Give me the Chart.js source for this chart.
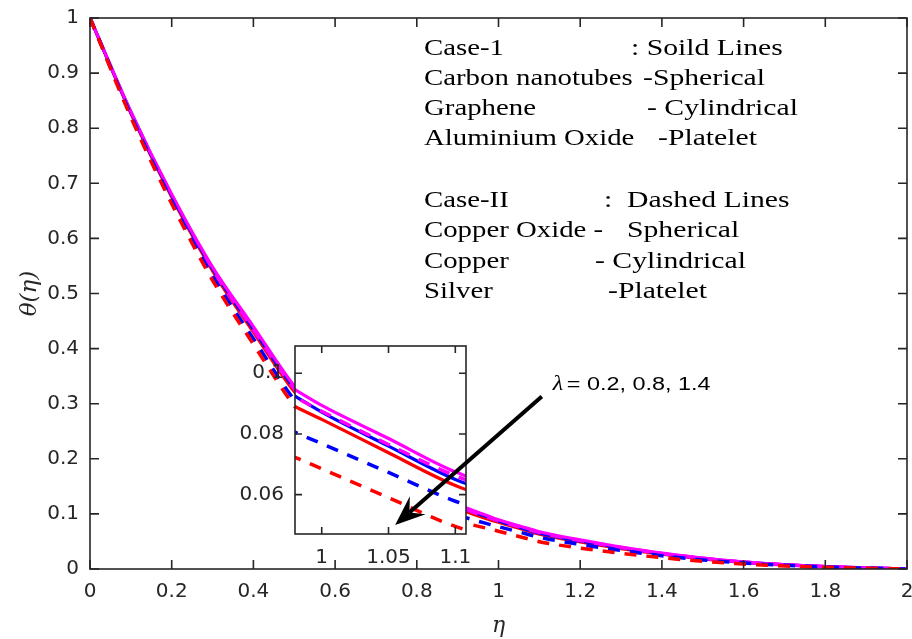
<!DOCTYPE html>
<html>
<head>
<meta charset="utf-8">
<script src="https://cdn.jsdelivr.net/npm/chart.js@4.4.1/dist/chart.umd.min.js"></script>
<style>
  body { margin: 0; background: #fff; }
  #wrap { position: relative; width: 912px; height: 639px; }
  #mainChart { position: absolute; left: 0; top: 0; }
  #insetChart { position: absolute; left: 228px; top: 330px; }
</style>
</head>
<body>
<div id="wrap">
  <canvas id="mainChart" width="912" height="639"></canvas>
  <canvas id="insetChart" width="332" height="246"></canvas>
</div>
<script>
// eta grid (denser near the zoomed window)
const eta = [0, 0.1, 0.2, 0.3, 0.4, 0.5, 0.6, 0.7, 0.8, 0.9, 0.98, 1.0, 1.05, 1.1, 1.2, 1.3, 1.4, 1.5, 1.6, 1.7, 1.8, 1.9, 2.0];

// Case-I, solid lines (lambda = 0.2 / 0.8 / 1.4)
const solidMagenta = [1, 0.830, 0.680, 0.548, 0.440, 0.332, 0.252, 0.193, 0.150, 0.117, 0.0946, 0.0894, 0.0785, 0.0675, 0.0530, 0.0400, 0.0290, 0.0200, 0.0130, 0.0080, 0.0045, 0.0020, 0];
const solidBlue    = [1, 0.829, 0.678, 0.545, 0.435, 0.328, 0.248, 0.189, 0.146, 0.114, 0.0925, 0.0872, 0.0760, 0.0650, 0.0508, 0.0385, 0.0278, 0.0193, 0.0124, 0.0077, 0.0043, 0.0019, 0];
const solidRed     = [1, 0.827, 0.675, 0.541, 0.430, 0.322, 0.241, 0.183, 0.141, 0.110, 0.0891, 0.0848, 0.0738, 0.0630, 0.0490, 0.0370, 0.0268, 0.0185, 0.0120, 0.0074, 0.0041, 0.0018, 0];

// Case-II, dashed lines
const dashMagenta  = [1, 0.828, 0.677, 0.544, 0.434, 0.327, 0.247, 0.188, 0.146, 0.114, 0.0922, 0.0875, 0.0765, 0.0662, 0.0515, 0.0390, 0.0280, 0.0195, 0.0125, 0.0078, 0.0043, 0.0019, 0];
const dashBlue     = [1, 0.824, 0.669, 0.532, 0.418, 0.307, 0.224, 0.166, 0.127, 0.098, 0.0806, 0.0768, 0.0673, 0.0578, 0.0445, 0.0335, 0.0240, 0.0165, 0.0107, 0.0066, 0.0037, 0.0016, 0];
const dashRed      = [1, 0.820, 0.663, 0.524, 0.408, 0.296, 0.210, 0.152, 0.113, 0.087, 0.0723, 0.0685, 0.0590, 0.0495, 0.0380, 0.0285, 0.0205, 0.0140, 0.0090, 0.0056, 0.0031, 0.0014, 0];

// ticks
const xTicks = [0, 0.2, 0.4, 0.6, 0.8, 1, 1.2, 1.4, 1.6, 1.8, 2];
const yTicks = [0, 0.1, 0.2, 0.3, 0.4, 0.5, 0.6, 0.7, 0.8, 0.9, 1];
const insetXTicks = [1, 1.05, 1.1];
const insetYTicks = [0.06, 0.08, 0.1];

// annotation text
const noteLines = [
  ['Case-1', ': Soild Lines'],
  ['Carbon nanotubes', '-Spherical'],
  ['Graphene', '- Cylindrical'],
  ['Aluminium Oxide', '-Platelet'],
  ['Case-II', ':  Dashed Lines'],
  ['Copper Oxide -', 'Spherical'],
  ['Copper', '- Cylindrical'],
  ['Silver', '-Platelet']
];
const lambdaText = '= 0.2, 0.8, 1.4';
const arrowTail = [1.106, 0.313];
const arrowTip = [0.747, 0.080];
const lambdaAt = [1.133, 0.325];

const AX = '#262626';
const pts = arr => eta.map((x, i) => ({ x: x, y: arr[i] }));

function series(label, arr, color, dashed) {
  return {
    label: label,
    data: pts(arr),
    borderColor: color,
    borderWidth: dashed ? 3.5 : 3.2,
    borderDash: dashed ? [12, 10] : [],
    pointRadius: 0,
    fill: false,
    cubicInterpolationMode: 'monotone'
  };
}

function allSeries() {
  // first one ends up on top
  return [
    series('Case-II λ=1.4', dashRed, '#ff0000', true),
    series('Case-II λ=0.8', dashBlue, '#0000ff', true),
    series('Case-II λ=0.2', dashMagenta, '#ff00ff', true),
    series('Case-I λ=0.2', solidMagenta, '#ff00ff', false),
    series('Case-I λ=0.8', solidBlue, '#0000ff', false),
    series('Case-I λ=1.4', solidRed, '#ff0000', false)
  ];
}

// box + inward ticks on all four sides
function framePlugin(tickLen) {
  return {
    id: 'frame',
    afterDatasetsDraw(chart) {
      const { ctx, chartArea: a, scales: { x, y } } = chart;
      ctx.save();
      ctx.strokeStyle = AX;
      ctx.lineWidth = 1.6;
      ctx.strokeRect(a.left, a.top, a.right - a.left, a.bottom - a.top);
      ctx.beginPath();
      x.ticks.forEach(t => {
        const px = x.getPixelForValue(t.value);
        ctx.moveTo(px, a.bottom); ctx.lineTo(px, a.bottom - tickLen);
        ctx.moveTo(px, a.top); ctx.lineTo(px, a.top + tickLen);
      });
      y.ticks.forEach(t => {
        const py = y.getPixelForValue(t.value);
        ctx.moveTo(a.left, py); ctx.lineTo(a.left + tickLen, py);
        ctx.moveTo(a.right, py); ctx.lineTo(a.right - tickLen, py);
      });
      ctx.stroke();
      ctx.restore();
    }
  };
}

// figure text is wider than the fonts, so stretch it a bit
function wideText(ctx, text, x, y, font, sx) {
  ctx.save();
  ctx.translate(x, y);
  ctx.scale(sx, 1);
  ctx.font = font;
  ctx.fillText(text, 0, 0);
  ctx.restore();
}

const notesPlugin = {
  id: 'notes',
  afterDraw(chart) {
    const { ctx, scales: { x, y } } = chart;
    ctx.save();
    ctx.fillStyle = '#000';
    ctx.textBaseline = 'alphabetic';
    const serif = '22.5px "Liberation Serif", "Times New Roman", serif';
    const rightCol = [631, 643, 647, 658, 604, 627, 595, 608];
    const baseY = [55, 85, 115, 145, 207, 237, 268, 298];
    noteLines.forEach((ln, i) => {
      wideText(ctx, ln[0], 424, baseY[i], serif, 1.28);
      wideText(ctx, ln[1], rightCol[i], baseY[i], serif, 1.32);
    });
    const lx = x.getPixelForValue(lambdaAt[0]);
    const ly = y.getPixelForValue(lambdaAt[1]);
    wideText(ctx, 'λ', lx, ly, 'italic 20px "Liberation Serif", serif', 1.2);
    wideText(ctx, lambdaText, lx + 14, ly, '18px "Liberation Sans", Arial, sans-serif', 1.3);
    ctx.restore();
  }
};

function scaleCommon(ticksArr, fitSize, isX, pad) {
  return {
    type: 'linear',
    grid: { display: false, drawTicks: false },
    border: { display: false },
    afterBuildTicks: s => { s.ticks = ticksArr.map(v => ({ value: v })); },
    ticks: {
      color: AX,
      padding: pad,
      autoSkip: false,
      maxRotation: 0,
      font: { family: 'DejaVu Sans', size: 20 },
      callback: v => String(v)
    },
    afterFit: s => {
      if (isX) { s.height = fitSize; } else { s.width = fitSize; }
      s.paddingLeft = 0; s.paddingRight = 0; s.paddingTop = 0; s.paddingBottom = 0;
    }
  };
}

const mainX = scaleCommon(xTicks, 70, true, 11);
mainX.min = 0; mainX.max = 2;
mainX.title = { display: true, text: 'η', color: AX, padding: { top: 0, bottom: 0 },
  font: { family: 'DejaVu Serif', style: 'italic', size: 22 } };
const mainY = scaleCommon(yTicks, 90, false, 11);
mainY.min = 0; mainY.max = 1;
mainY.title = { display: true, text: 'θ(η)', color: AX, padding: { top: 16, bottom: 0 },
  font: { family: 'DejaVu Serif', style: 'italic', size: 23 } };

const mainChart = new Chart(document.getElementById('mainChart').getContext('2d'), {
  type: 'line',
  data: { datasets: allSeries() },
  options: {
    responsive: false,
    animation: false,
    devicePixelRatio: 1,
    layout: { autoPadding: false, padding: { top: 18, right: 5, left: 0, bottom: 0 } },
    plugins: { legend: { display: false }, tooltip: { enabled: false } },
    scales: { x: mainX, y: mainY }
  },
  plugins: [framePlugin(9), notesPlugin]
});

// zoomed inset
const insetCanvas = document.getElementById('insetChart');
const insetX = scaleCommon(insetXTicks, 42, true, 12);
insetX.min = 0.98; insetX.max = 1.108;
const insetY = scaleCommon(insetYTicks, 67, false, 11);
insetY.min = 0.047; insetY.max = 0.109;

const insetBg = {
  id: 'insetBg',
  beforeDatasetsDraw(chart) {
    const { ctx, chartArea: a } = chart;
    ctx.save();
    ctx.fillStyle = '#fff';
    ctx.fillRect(a.left, a.top, a.right - a.left, a.bottom - a.top);
    ctx.restore();
  }
};

// arrow, placed with the main chart's scales
const arrowPlugin = {
  id: 'arrow',
  afterDraw(chart) {
    const ctx = chart.ctx;
    const mx = mainChart.scales.x, my = mainChart.scales.y;
    const offX = insetCanvas.offsetLeft, offY = insetCanvas.offsetTop;
    const tail = { x: mx.getPixelForValue(arrowTail[0]) - offX, y: my.getPixelForValue(arrowTail[1]) - offY };
    const tip = { x: mx.getPixelForValue(arrowTip[0]) - offX, y: my.getPixelForValue(arrowTip[1]) - offY };
    const dx = tip.x - tail.x, dy = tip.y - tail.y, len = Math.hypot(dx, dy);
    const ux = dx / len, uy = dy / len, nx = -uy, ny = ux;
    const L = 30, W = 12, N = 19;
    ctx.save();
    ctx.strokeStyle = '#000';
    ctx.fillStyle = '#000';
    ctx.lineWidth = 4;
    ctx.beginPath();
    ctx.moveTo(tail.x, tail.y);
    ctx.lineTo(tip.x - ux * N, tip.y - uy * N);
    ctx.stroke();
    ctx.beginPath();
    ctx.moveTo(tip.x, tip.y);
    ctx.lineTo(tip.x - ux * L + nx * W, tip.y - uy * L + ny * W);
    ctx.lineTo(tip.x - ux * N, tip.y - uy * N);
    ctx.lineTo(tip.x - ux * L - nx * W, tip.y - uy * L - ny * W);
    ctx.closePath();
    ctx.fill();
    ctx.restore();
  }
};

const insetSets = allSeries().map(d => Object.assign(d, { clip: 0 }));
new Chart(insetCanvas.getContext('2d'), {
  type: 'line',
  data: { datasets: insetSets },
  options: {
    responsive: false,
    animation: false,
    devicePixelRatio: 1,
    layout: { autoPadding: false, padding: { top: 16, right: 94, left: 0, bottom: 0 } },
    plugins: { legend: { display: false }, tooltip: { enabled: false } },
    scales: { x: insetX, y: insetY }
  },
  plugins: [insetBg, framePlugin(7), arrowPlugin]
});
</script>
</body>
</html>
